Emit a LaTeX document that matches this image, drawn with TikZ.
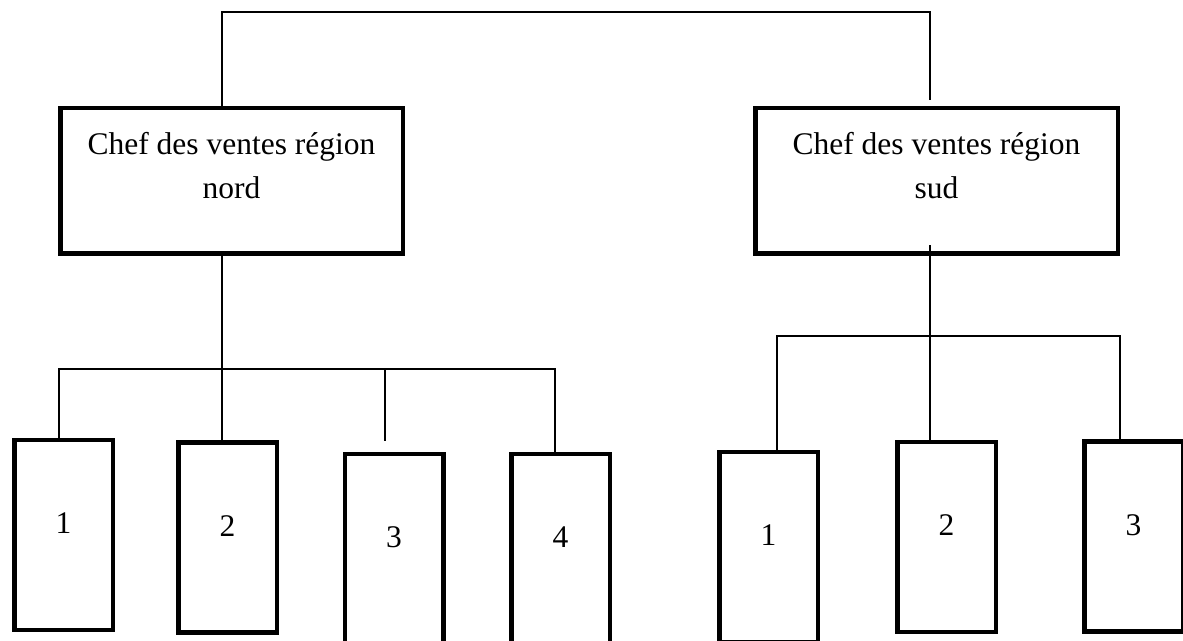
\documentclass[tikz,border=0pt]{standalone}
\usepackage{fontspec}
\setmainfont{Liberation Serif}
\usetikzlibrary{calc}
\definecolor{orgInk}{HTML}{000000}
\tikzset{
 chart/.style={line cap=rect,line join=miter,text=orgInk,
   font=\fontsize{15.75}{22}\selectfont},
 chief/.style={rectangle,draw=orgInk,fill=white,line width=2.25pt,align=center,
   inner sep=0pt,minimum height=72.75pt,text depth=15.8pt},
 unit/.style={rectangle,draw=orgInk,fill=white,line width=2.25pt,inner sep=0pt,
   minimum width=49.25pt,minimum height=94.75pt,text height=10.65pt,text depth=12pt},
 wire/.style={draw=orgInk,line width=1pt}
}
\begin{document}
\begin{tikzpicture}[chart,x=0.5pt,y=-0.5pt]
 \useasboundingbox (0,0) rectangle (1183,641);
 \clip (0,0) rectangle (1183,641);
 % region heads
 \node[chief,minimum width=171.25pt] (nord) at (231.5,181) {Chef des ventes région\\nord};
 \node[chief,minimum width=181.25pt] (sud) at (936.5,181) {Chef des ventes région\\sud};
 % sellers, north
 \node[unit] (n1) at (63.5,535) {1};
 \node[unit] (n2) at (227.5,537.5) {2};
 \node[unit] (n3) at (394,549) {3};
 \node[unit] (n4) at (560.5,549) {4};
 % sellers, south
 \node[unit] (s1) at (768.5,547) {1};
 \node[unit] (s2) at (946.5,537) {2};
 \node[unit] (s3) at (1133.5,536.5) {3};
 % bus points
 \coordinate (topL) at (222,12);
 \coordinate (topR) at (930,12);
 \coordinate (nL) at (59,369);
 \coordinate (nM) at (222,369);
 \coordinate (nT) at (385,369);
 \coordinate (nR) at (555,369);
 \coordinate (sL) at (777,336);
 \coordinate (sM) at (930,336);
 \coordinate (sR) at (1120,336);
 % links
 \draw[wire] (nord.north -| topL) -- (topL) -- (topR) -- ([yshift=3.5pt]sud.north -| topR);
 \draw[wire] (nord.south -| nM) -- (n2.north -| nM);
 \draw[wire] (n1.north -| nL) -- (nL) -- (nR) -- (n4.north -| nR);
 \draw[wire] (nT) -- ([yshift=6pt]n3.north -| nT);
 \draw[wire] ([yshift=5pt]sud.south -| sM) -- (s2.north -| sM);
 \draw[wire] (s1.north -| sL) -- (sL) -- (sR) -- (s3.north -| sR);
\end{tikzpicture}
\end{document}
